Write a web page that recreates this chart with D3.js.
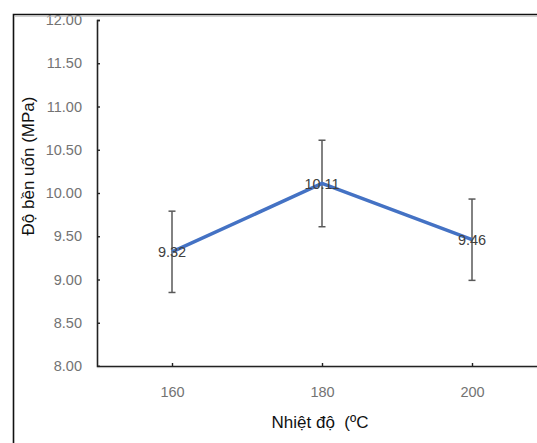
<!DOCTYPE html>
<html>
<head>
<meta charset="utf-8">
<script src="https://cdn.jsdelivr.net/npm/d3@7"></script>
<style>
  body { margin: 0; background: #fff; }
  svg { display: block; }
</style>
</head>
<body>
<svg id="chart" width="537" height="443"></svg>
<script>
// data
const temps = ['160', '180', '200'];
const strength = [9.32, 10.11, 9.46];
const errors = [0.47, 0.5, 0.47];
const yTicks = [8.0, 8.5, 9.0, 9.5, 10.0, 10.5, 11.0, 11.5, 12.0];

const svg = d3.select('#chart');
const margin = { top: 20, left: 97 };
const plotH = 346;
const plotW = 450; // runs past the right edge, as in the crop

const data = temps.map((t, i) => ({ t, v: strength[i], e: errors[i] }));

const x = d3.scalePoint().domain(temps).range([0, plotW]).padding(0.5);
const y = d3.scaleLinear().domain([8, 12]).range([plotH, 0]);

svg.append('clipPath').attr('id', 'frame-clip')
  .append('rect').attr('x', 14).attr('y', 15).attr('width', 537).attr('height', 443);

const root = svg.append('g').attr('clip-path', 'url(#frame-clip)');
const g = root.append('g').attr('transform', `translate(${margin.left},${margin.top})`);

const font = '"Liberation Sans", Arial, sans-serif';

// y axis
const yAxis = g.append('g')
  .call(d3.axisRight(y).tickValues(yTicks).tickFormat(d3.format('.2f')).tickSize(3).tickPadding(0));
yAxis.select('.domain').attr('stroke', '#222').attr('stroke-width', 1.6);
yAxis.selectAll('.tick line').attr('stroke', '#222').attr('stroke-width', 1.4);
yAxis.selectAll('.tick text')
  .attr('x', -15)
  .attr('text-anchor', 'end')
  .attr('fill', '#737373')
  .style('font-family', font)
  .style('font-size', '14.5px');

// x axis
const xAxis = g.append('g')
  .attr('transform', `translate(0,${plotH})`)
  .call(d3.axisTop(x).tickSize(3).tickSizeOuter(0));
xAxis.select('.domain').attr('stroke', '#222').attr('stroke-width', 1.6);
xAxis.selectAll('.tick line').attr('stroke', '#222').attr('stroke-width', 1.4);
xAxis.selectAll('.tick text')
  .attr('y', 26)
  .attr('dy', '0.32em')
  .attr('fill', '#737373')
  .style('font-family', font)
  .style('font-size', '14.5px');
g.append('line')
  .attr('x1', 0).attr('x2', plotW).attr('y1', plotH + 1.6).attr('y2', plotH + 1.6)
  .attr('stroke', '#bbb').attr('stroke-width', 1);

// error bars
const eb = g.selectAll('.err').data(data).enter().append('g').attr('class', 'err')
  .attr('stroke', '#595959').attr('stroke-width', 1.5);
eb.append('line')
  .attr('x1', (d) => x(d.t)).attr('x2', (d) => x(d.t))
  .attr('y1', (d) => y(d.v + d.e)).attr('y2', (d) => y(d.v - d.e));
eb.append('line')
  .attr('x1', (d) => x(d.t) - 3.5).attr('x2', (d) => x(d.t) + 3.5)
  .attr('y1', (d) => y(d.v + d.e)).attr('y2', (d) => y(d.v + d.e));
eb.append('line')
  .attr('x1', (d) => x(d.t) - 3.5).attr('x2', (d) => x(d.t) + 3.5)
  .attr('y1', (d) => y(d.v - d.e)).attr('y2', (d) => y(d.v - d.e));

// line
g.append('path')
  .datum(data)
  .attr('fill', 'none')
  .attr('stroke', '#4472c4')
  .attr('stroke-width', 3.5)
  .attr('d', d3.line().x((d) => x(d.t)).y((d) => y(d.v)));

// value labels
g.selectAll('.lbl').data(data).enter().append('text')
  .attr('x', (d) => x(d.t))
  .attr('y', (d) => y(d.v))
  .attr('dy', '0.35em')
  .attr('text-anchor', 'middle')
  .attr('fill', '#404040')
  .style('font-family', font)
  .style('font-size', '14.5px')
  .text((d) => d3.format('.2f')(d.v));

// axis titles
svg.append('text')
  .attr('transform', 'translate(34,166) rotate(-90)')
  .attr('text-anchor', 'middle')
  .attr('fill', '#111')
  .style('font-family', font)
  .style('font-size', '17px')
  .text('Độ bền uốn (MPa)');

svg.append('text')
  .attr('x', 320)
  .attr('y', 428)
  .attr('text-anchor', 'middle')
  .attr('fill', '#111')
  .style('font-family', font)
  .style('font-size', '17px')
  .attr('xml:space', 'preserve')
  .text('Nhiệt độ  (ºC');

// outer frame (left and top edges only are visible in the crop)
svg.append('path')
  .attr('d', 'M13.5,443 V14.5 H537')
  .attr('fill', 'none')
  .attr('stroke', '#111')
  .attr('stroke-width', 1.6);
svg.append('line')
  .attr('x1', 15).attr('x2', 537).attr('y1', 16.2).attr('y2', 16.2)
  .attr('stroke', '#bbb').attr('stroke-width', 1);
</script>
</body>
</html>
